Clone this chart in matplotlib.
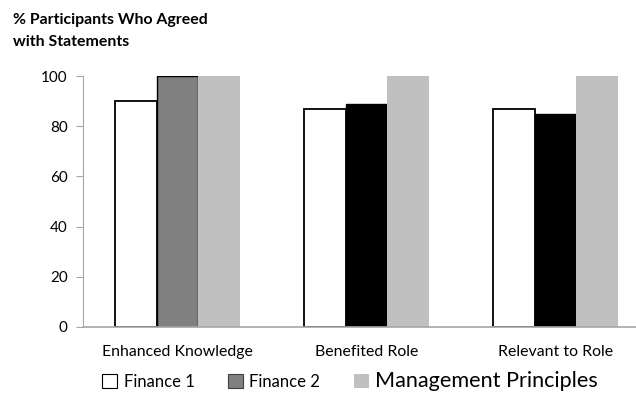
import matplotlib.pyplot as plt
from matplotlib.patches import Patch
import numpy as np

plt.rcParams['font.family'] = ['Lato', 'DejaVu Sans']

categories = ['Enhanced Knowledge', 'Benefited Role', 'Relevant to Role']
finance1 = [90, 87, 87]
finance2 = [100, 89, 85]
management = [100, 100, 100]
series_names = ['Finance 1', 'Finance 2', 'Management Principles']
yticks = [0, 20, 40, 60, 80, 100]

fig = plt.figure(figsize=(6.36, 3.94), dpi=100)
ax = fig.add_axes([83 / 636, 1 - 327 / 394, (650 - 83) / 636, (327 - 76) / 394])

x = np.arange(len(categories))
w = 0.222
f2_colors = ['#808080', 'black', 'black']
ax.bar(x - w, finance1, w, color='white', edgecolor='black', linewidth=1.3)
ax.bar(x, finance2, w, color=f2_colors, edgecolor='black', linewidth=1.0)
ax.bar(x + w, management, w, color='#c0c0c0', linewidth=0)

ax.set_xlim(-0.5, 2.5)
ax.set_ylim(0, 100)
ax.set_yticks(yticks)
ax.set_xticks(x)
ax.set_xticklabels(categories, fontsize=11.4)
ax.tick_params(axis='x', length=0, pad=13)
ax.tick_params(axis='y', length=5, color='#a6a6a6', labelsize=11, pad=6)
for s in ['top', 'right']:
    ax.spines[s].set_visible(False)
ax.spines['left'].set_color('#a6a6a6')
ax.spines['bottom'].set_color('#a6a6a6')
ax.spines['bottom'].set_linewidth(1.2)

fig.text(13 / 636, 1 - 13 / 394, '% Participants Who Agreed\nwith Statements',
         fontsize=11.4, fontweight='bold', va='top', ha='left', linespacing=1.75)

handles = [Patch(facecolor='white', edgecolor='black', linewidth=0.8),
           Patch(facecolor='#808080', edgecolor='#404040', linewidth=0.8),
           Patch(facecolor='#c0c0c0', linewidth=0)]
leg = fig.legend(handles, series_names, loc='center', bbox_to_anchor=(350 / 636, 1 - 381 / 394),
                 ncol=3, frameon=False, handlelength=0.9, handleheight=0.9,
                 handletextpad=0.4, columnspacing=2.0, fontsize=12)
leg.get_texts()[2].set_fontsize(15.6)

fig.savefig('out.png', dpi=100)
